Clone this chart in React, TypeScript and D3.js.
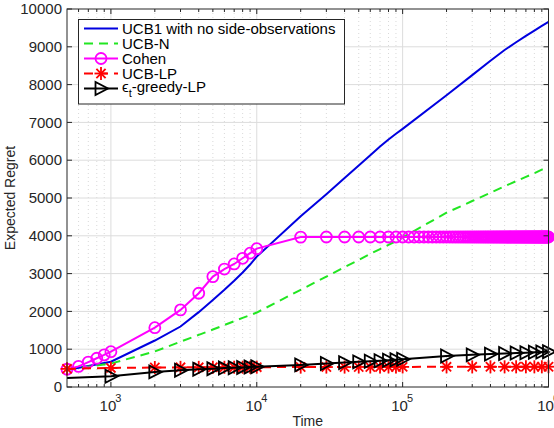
import React from "react";
import * as d3 from "d3";

// ---------- data ----------
const T = [500, 1000, 2000, 3000, 4000, 5000, 6000, 7000, 8000, 9000, 10000,
  20000, 30000, 40000, 50000, 60000, 70000, 80000, 90000, 100000,
  200000, 300000, 400000, 500000, 600000, 700000, 800000, 900000, 1000000];

const ucb1 = [450, 670, 1230, 1600, 1980, 2300, 2570, 2810, 3030, 3240, 3450,
  4520, 5100, 5530, 5860, 6130, 6360, 6550, 6700, 6830,
  7720, 8250, 8630, 8915, 9120, 9290, 9430, 9555, 9660];

const ucbN = [460, 620, 940, 1200, 1380, 1520, 1640, 1740, 1830, 1900, 1970,
  2570, 2920, 3170, 3360, 3520, 3650, 3760, 3860, 3960,
  4610, 4920, 5140, 5310, 5445, 5560, 5655, 5750, 5830];

const ucbLP = [480, 505, 515, 520, 520, 522, 522, 524, 524, 525, 525,
  527, 528, 528, 530, 530, 530, 531, 531, 532,
  533, 533, 534, 534, 535, 535, 535, 535, 536];

const epsGreedy = [240, 285, 400, 445, 470, 485, 500, 510, 518, 527, 535,
  585, 620, 645, 665, 680, 695, 708, 720, 733,
  820, 850, 870, 885, 898, 908, 918, 926, 935];

const cohenT = [500, 600, 700, 800, 900, 1000,
  2000, 3000, 4000, 5000, 6000, 7000, 8000, 9000, 10000,
  20000, 30000, 40000, 50000, 60000, 70000, 80000, 90000, 100000,
  110000, 120000, 130000, 140000, 150000, 160000, 170000, 180000, 190000, 200000,
  210000, 220000, 230000, 240000, 250000, 260000, 270000, 280000, 290000, 300000,
  310000, 320000, 330000, 340000, 350000, 360000, 370000, 380000, 390000, 400000,
  410000, 420000, 430000, 440000, 450000, 460000, 470000, 480000, 490000, 500000,
  510000, 520000, 530000, 540000, 550000, 560000, 570000, 580000, 590000, 600000,
  610000, 620000, 630000, 640000, 650000, 660000, 670000, 680000, 690000, 700000,
  710000, 720000, 730000, 740000, 750000, 760000, 770000, 780000, 790000, 800000,
  810000, 820000, 830000, 840000, 850000, 860000, 870000, 880000, 890000, 900000,
  910000, 920000, 930000, 940000, 950000, 960000, 970000, 980000, 990000, 1000000];

const cohen = [470, 545, 660, 760, 850, 935,
  1570, 2040, 2480, 2920, 3120, 3255, 3405, 3540, 3660,
  3965, 3968, 3968, 3968, 3968, 3968, 3968, 3968, 3968,
  3968, 3968, 3968, 3968, 3968, 3968, 3968, 3968, 3968, 3968,
  3968, 3968, 3968, 3968, 3968, 3968, 3968, 3968, 3968, 3968,
  3968, 3968, 3968, 3968, 3968, 3968, 3968, 3968, 3968, 3968,
  3968, 3968, 3968, 3968, 3968, 3968, 3968, 3968, 3968, 3968,
  3968, 3968, 3968, 3968, 3968, 3968, 3968, 3968, 3968, 3968,
  3968, 3968, 3968, 3968, 3968, 3968, 3968, 3968, 3968, 3968,
  3968, 3968, 3968, 3968, 3968, 3968, 3968, 3968, 3968, 3968,
  3968, 3968, 3968, 3968, 3968, 3968, 3968, 3968, 3968, 3968,
  3968, 3968, 3968, 3968, 3968, 3968, 3968, 3968, 3968, 3968];

const yTicks = [0, 1000, 2000, 3000, 4000, 5000, 6000, 7000, 8000, 9000, 10000];
const xMajor = [1000, 10000, 100000, 1000000];
const xExp = ["3", "4", "5", "6"];
const legendLabels = ["UCB1 with no side-observations", "UCB-N", "Cohen", "UCB-LP"];

// ---------- layout ----------
const W = 554, H = 428;
const L = 67, R = 548.5, TOP = 9, BOT = 387;
const AX = "#262626";
const FONT = "'Liberation Sans', Arial, Helvetica, sans-serif";

const x = d3.scaleLog().domain([500, 1000000]).range([L, R]);
const y = d3.scaleLinear().domain([0, 10000]).range([BOT, TOP]);

const minorX: number[] = [];
[100, 1000, 10000, 100000].forEach((dec) => {
  for (let k = 2; k <= 9; k++) {
    const v = dec * k;
    if (v > 500 && v < 1000000) minorX.push(v);
  }
});

const lineGen = (xs: number[], ys: number[]) =>
  d3.line<number>().x((_, i) => x(xs[i])).y((d) => y(d))(ys) || "";

const Star = ({ cx, cy, s = 6.5, color = "#ff0000" }: any) => {
  const d = s * 0.7071;
  return (
    <g stroke={color} strokeWidth={1.8} fill="none">
      <line x1={cx - s} y1={cy} x2={cx + s} y2={cy} />
      <line x1={cx} y1={cy - s} x2={cx} y2={cy + s} />
      <line x1={cx - d} y1={cy - d} x2={cx + d} y2={cy + d} />
      <line x1={cx - d} y1={cy + d} x2={cx + d} y2={cy - d} />
    </g>
  );
};

const Tri = ({ cx, cy }: any) => (
  <path
    d={`M${cx - 5.5},${cy - 6.5} L${cx - 5.5},${cy + 6.5} L${cx + 7},${cy} Z`}
    fill="none"
    stroke="#000"
    strokeWidth={1.8}
    strokeLinejoin="miter"
  />
);

export default function App() {
  const legY = [28.5, 43.5, 58.5, 73.5, 88.5];
  const lx1 = 84, lx2 = 118, lmid = 101, ltx = 122;
  return (
    <div style={{ position: "fixed", left: 0, top: 0 }}>
      <svg width={W} height={H} style={{ display: "block", background: "#fff" }} fontFamily={FONT}>
        <rect x={0} y={0} width={W} height={H} fill="#fff" />
        {/* grid */}
        {minorX.map((v) => (
          <line key={"mx" + v} x1={x(v)} x2={x(v)} y1={TOP} y2={BOT} stroke="#cfcfcf" strokeWidth={0.8} strokeDasharray="1,3" />
        ))}
        {xMajor.slice(0, 3).map((v) => (
          <line key={"gx" + v} x1={x(v)} x2={x(v)} y1={TOP} y2={BOT} stroke="#dcdcdc" strokeWidth={1} />
        ))}
        {yTicks.slice(1, -1).map((v) => (
          <line key={"gy" + v} x1={L} x2={R} y1={y(v)} y2={y(v)} stroke="#dcdcdc" strokeWidth={1} />
        ))}

        {/* lines */}
        <path d={lineGen(T, ucb1)} fill="none" stroke="#0000e0" strokeWidth={2} />
        <path d={lineGen(T, ucbN)} fill="none" stroke="#22e622" strokeWidth={2} strokeDasharray="9,6" />
        <path d={lineGen(cohenT, cohen)} fill="none" stroke="#ff00ff" strokeWidth={2} />
        {cohenT.map((t, i) => (
          <circle key={"c" + i} cx={x(t)} cy={y(cohen[i])} r={5.5} fill="none" stroke="#ff00ff" strokeWidth={1.8} />
        ))}
        <path d={lineGen(T, ucbLP)} fill="none" stroke="#ff0000" strokeWidth={2} strokeDasharray="9,6" />
        {T.map((t, i) => (
          <Star key={"s" + i} cx={x(t)} cy={y(ucbLP[i])} />
        ))}
        <path d={lineGen(T, epsGreedy)} fill="none" stroke="#000" strokeWidth={2} />
        {T.map((t, i) => (i === 0 ? null : <Tri key={"t" + i} cx={x(t)} cy={y(epsGreedy[i])} />))}

        {/* axes box */}
        <rect x={L} y={TOP} width={R - L} height={BOT - TOP} fill="none" stroke={AX} strokeWidth={1} />
        {/* y ticks */}
        {yTicks.map((v) => (
          <g key={"yt" + v}>
            <line x1={L} x2={L + 5} y1={y(v)} y2={y(v)} stroke={AX} />
            <line x1={R - 5} x2={R} y1={y(v)} y2={y(v)} stroke={AX} />
            <text x={L - 5} y={y(v)} dy="0.35em" textAnchor="end" fontSize={15} fill={AX}>
              {v}
            </text>
          </g>
        ))}
        {/* x ticks */}
        {xMajor.map((v, i) => (
          <g key={"xt" + v}>
            <line x1={x(v)} x2={x(v)} y1={BOT} y2={BOT - 5} stroke={AX} />
            <line x1={x(v)} x2={x(v)} y1={TOP} y2={TOP + 5} stroke={AX} />
            <text x={x(v) - 3} y={BOT + 23.5} textAnchor="middle" fontSize={15} fill={AX}>
              10
            </text>
            <text x={x(v) + 7.5} y={BOT + 15} textAnchor="middle" fontSize={11} fill={AX}>
              {xExp[i]}
            </text>
          </g>
        ))}
        {minorX.map((v) => (
          <g key={"xm" + v}>
            <line x1={x(v)} x2={x(v)} y1={BOT} y2={BOT - 3} stroke={AX} />
            <line x1={x(v)} x2={x(v)} y1={TOP} y2={TOP + 3} stroke={AX} />
          </g>
        ))}
        <text x={(L + R) / 2} y={426} textAnchor="middle" fontSize={14} fill={AX}>
          Time
        </text>
        <text transform={`translate(15,${(TOP + BOT) / 2}) rotate(-90)`} textAnchor="middle" fontSize={14} fill={AX}>
          Expected Regret
        </text>

        {/* legend */}
        <rect x={78.5} y={19.5} width={266} height={84.5} fill="#fff" stroke={AX} strokeWidth={1} />
        <line x1={lx1} x2={lx2} y1={legY[0]} y2={legY[0]} stroke="#0000e0" strokeWidth={2} />
        <line x1={lx1} x2={lx2} y1={legY[1]} y2={legY[1]} stroke="#22e622" strokeWidth={2} strokeDasharray="9,6" />
        <line x1={lx1} x2={lx2} y1={legY[2]} y2={legY[2]} stroke="#ff00ff" strokeWidth={2} />
        <circle cx={lmid} cy={legY[2]} r={5.5} fill="none" stroke="#ff00ff" strokeWidth={1.8} />
        <line x1={lx1} x2={lx2} y1={legY[3]} y2={legY[3]} stroke="#ff0000" strokeWidth={2} strokeDasharray="9,6" />
        <Star cx={lmid} cy={legY[3]} />
        <line x1={lx1} x2={lx2} y1={legY[4]} y2={legY[4]} stroke="#000" strokeWidth={2} />
        <Tri cx={lmid} cy={legY[4]} />
        {legendLabels.map((s, i) => (
          <text key={"l" + i} x={ltx} y={legY[i]} dy="0.35em" fontSize={15} fill="#000">
            {s}
          </text>
        ))}
        <text x={ltx} y={legY[4]} dy="0.2em" fontSize={15} fill="#000">
          ϵ
          <tspan fontSize={11} dy="5">t</tspan>
          <tspan dy="-5">-greedy-LP</tspan>
        </text>
      </svg>
    </div>
  );
}
